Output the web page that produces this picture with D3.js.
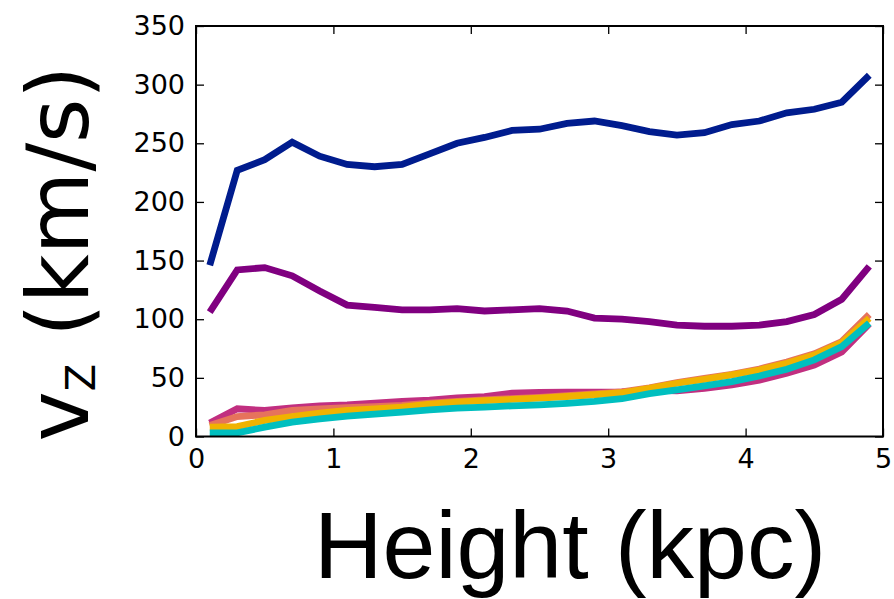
<!DOCTYPE html>
<html>
<head>
<meta charset="utf-8">
<script src="https://cdn.jsdelivr.net/npm/d3@7"></script>
<style>
  html, body { margin: 0; padding: 0; background: #fff; }
  svg { display: block; }
</style>
</head>
<body>
<script>
// ---- data ----
const heights = [0.1,0.3,0.5,0.7,0.9,1.1,1.3,1.5,1.7,1.9,2.1,2.3,2.5,2.7,2.9,3.1,3.3,3.5,3.7,3.9,4.1,4.3,4.5,4.7,4.9];
const seriesBlue    = [146,227,236,251,239,232,230,232,241,250,255,261,262,267,269,265,260,257,259,266,269,276,279,285,308];
const seriesPurple  = [106,142,144,137,124,112,110,108,108,109,107,108,109,107,101,100,98,95,94,94,95,98,104,117,145];
const seriesMagenta = [11.4,23.6,22.2,24.5,26.2,27,28.4,29.9,31,33,34,37,37.5,37.8,37.8,38,39.5,39,41,44,48,54,61,72,96];
const seriesSalmon  = [9.4,17,18.5,22.2,23.6,24.5,25.5,26.5,28.5,30,31.2,32.3,33.4,34.8,36.3,38,41.5,46,49.5,53,57.5,63.5,70.5,81,104];
const seriesGold    = [8,8.5,13.7,17,19.9,22.2,23.6,25,27.5,29.3,30.5,31.6,32.7,34.1,35.6,37.3,41,45.4,48.8,52.5,56.7,62.5,69.5,80,100.8];
const seriesCyan    = [3.1,3.1,8,12.3,15.1,17.4,19,20.8,22.7,24.2,25,26.2,27,28.2,29.9,32.2,36.5,39.7,43.1,46.8,51.6,57.3,65.3,76.6,96.6];
const seriesColors  = ["#001c8e", "#800080", "#c12f80", "#e6735c", "#f0b300", "#00bfbf"];
const xTicks = [0,1,2,3,4,5];
const yTicks = [0,50,100,150,200,250,300,350];
const xLabel = "Height (kpc)";

// ---- layout ----
const W = 894, H = 599;
const L = 196, R = 883, T = 26, B = 436.5;

const svg = d3.select("body").append("svg").attr("width", W).attr("height", H);
svg.append("rect").attr("width", W).attr("height", H).attr("fill", "#fff");

const x = d3.scaleLinear().domain([0, 5]).range([L, R]);
const y = d3.scaleLinear().domain([0, 350]).range([B, T]);

svg.append("clipPath").attr("id", "clip")
  .append("rect").attr("x", L).attr("y", T).attr("width", R - L).attr("height", B - T);

const line = d3.line().x((d, i) => x(heights[i])).y(d => y(d));
const allSeries = [seriesBlue, seriesPurple, seriesMagenta, seriesSalmon, seriesGold, seriesCyan];

const g = svg.append("g").attr("clip-path", "url(#clip)");
allSeries.forEach((s, i) => {
  g.append("path")
    .attr("d", line(s))
    .attr("fill", "none")
    .attr("stroke", seriesColors[i])
    .attr("stroke-width", 6.8)
    .attr("stroke-linejoin", "miter")
    .attr("stroke-linecap", "butt");
});

// ---- axes ----
const tickFont = "DejaVu Sans";
function styleAxis(sel) {
  sel.select(".domain").remove();
  sel.selectAll(".tick line").attr("stroke", "#000").attr("stroke-width", 1.3);
  sel.selectAll(".tick text").attr("font-family", tickFont).attr("font-size", 27).attr("fill", "#000");
}

svg.append("g").attr("transform", `translate(0,${B})`)
  .call(d3.axisBottom(x).tickValues(xTicks).tickFormat(d3.format("d")).tickSize(-8).tickPadding(12))
  .call(styleAxis);
svg.append("g").attr("transform", `translate(0,${T})`)
  .call(d3.axisTop(x).tickValues(xTicks).tickFormat("").tickSize(-8))
  .call(styleAxis);
svg.append("g").attr("transform", `translate(${L},0)`)
  .call(d3.axisLeft(y).tickValues(yTicks).tickFormat(d3.format("d")).tickSize(-8).tickPadding(11))
  .call(styleAxis);
svg.append("g").attr("transform", `translate(${R},0)`)
  .call(d3.axisRight(y).tickValues(yTicks).tickFormat("").tickSize(-8))
  .call(styleAxis);

// frame
svg.append("rect").attr("x", L).attr("y", T).attr("width", R - L).attr("height", B - T)
  .attr("fill", "none").attr("stroke", "#000").attr("stroke-width", 2);

// ---- axis labels ----
svg.append("text")
  .attr("x", 570).attr("y", 578)
  .attr("text-anchor", "middle")
  .attr("font-family", "Liberation Sans, Arial, sans-serif")
  .attr("font-size", 95)
  .attr("fill", "#000")
  .text(xLabel);

const yl = svg.append("text")
  .attr("transform", "translate(88,253.5) rotate(-90)")
  .attr("text-anchor", "middle")
  .attr("font-family", "DejaVu Sans")
  .attr("font-size", 85)
  .attr("fill", "#000");
yl.append("tspan").text("v");
yl.append("tspan").attr("font-size", 40).attr("dy", 7).text("Z");
yl.append("tspan").attr("dy", -7).text(" (km/s)");
</script>
</body>
</html>
